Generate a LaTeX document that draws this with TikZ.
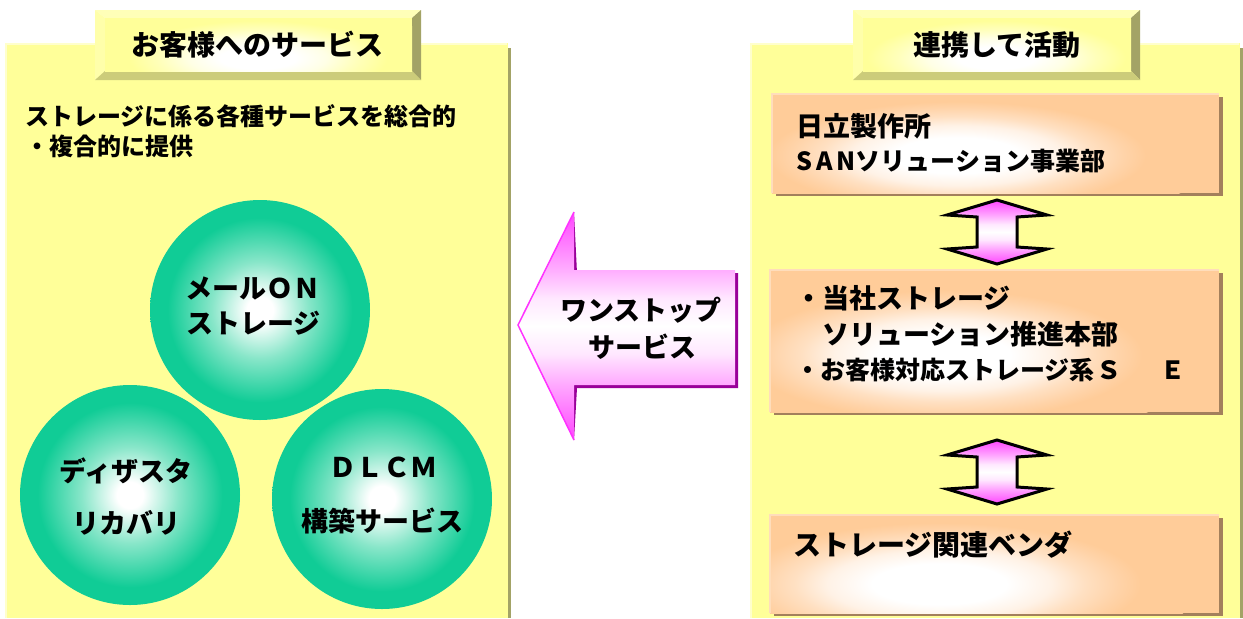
\documentclass[tikz,border=0pt]{standalone}
\usepackage{fontspec}
\setmainfont{Noto Sans CJK JP}
\usetikzlibrary{calc,fit,shadows}
\definecolor{panel}{HTML}{FFFF99}
\definecolor{panellight}{HTML}{FFFFCC}
\definecolor{panelshadow}{HTML}{A3A366}
\definecolor{bevtop}{HTML}{FFFFB8}
\definecolor{bevleft}{HTML}{FFFFAA}
\definecolor{bevright}{HTML}{A3A366}
\definecolor{bevbottom}{HTML}{CCCC7A}
\definecolor{bevface}{HTML}{FFFF99}
\definecolor{bevface1}{HTML}{FFFFE6}
\definecolor{bevface2}{HTML}{FFFFBB}
\definecolor{peach}{HTML}{FFCC99}
\definecolor{peach1}{HTML}{FFF2E6}
\definecolor{peach2}{HTML}{FFE0C2}
\definecolor{peach3}{HTML}{FFD3A8}
\definecolor{peachlight}{HTML}{FFDDBB}
\definecolor{peachshadow}{HTML}{A3805C}
\definecolor{cgreen}{HTML}{10CC96}
\definecolor{cgreenmid}{HTML}{88E6C9}
\definecolor{mag}{HTML}{FF44FF}
\definecolor{pink1}{HTML}{FFB0FF}
\definecolor{pink2}{HTML}{FFE8FF}
\definecolor{magbright}{HTML}{FF33FF}
\definecolor{magdark}{HTML}{990099}
\pgfdeclareradialshading{ball}{\pgfpointorigin}{color(0bp)=(white); color(3bp)=(white); color(11bp)=(cgreenmid); color(21bp)=(cgreen); color(25bp)=(cgreen); color(50bp)=(cgreen)}
\pgfdeclareradialshading{glow}{\pgfpointorigin}{color(0bp)=(white); color(6bp)=(white); color(10bp)=(peach1); color(13bp)=(peach2); color(16bp)=(peach3); color(18bp)=(peach); color(50bp)=(peach)}
\pgfdeclareradialshading{yglow}{\pgfpointorigin}{color(0bp)=(white); color(5bp)=(white); color(9bp)=(bevface1); color(13bp)=(bevface2); color(17bp)=(bevface); color(50bp)=(bevface)}
\pgfdeclareverticalshading{pinkv}{100bp}{color(0bp)=(mag); color(25bp)=(mag); color(38bp)=(pink1); color(44bp)=(pink2); color(50bp)=(white); color(56bp)=(pink2); color(62bp)=(pink1); color(75bp)=(mag); color(100bp)=(mag)}
\newcommand\bevbox[4]{%
  \pgfmathsetmacro\bvXa{#1+10}\pgfmathsetmacro\bvYa{#2+8}%
  \pgfmathsetmacro\bvXb{#3-9}\pgfmathsetmacro\bvYb{#4-9}%
  \pgfmathsetmacro\bvCx{(#1+#3)/2}\pgfmathsetmacro\bvCy{#4-22}%
  \fill[bevtop] (#1,#2) -- (#3,#2) -- (\bvXb,\bvYa) -- (\bvXa,\bvYa) -- cycle;
  \fill[bevleft] (#1,#2) -- (\bvXa,\bvYa) -- (\bvXa,\bvYb) -- (#1,#4) -- cycle;
  \fill[bevright] (#3,#2) -- (#3,#4) -- (\bvXb,\bvYb) -- (\bvXb,\bvYa) -- cycle;
  \fill[bevbottom] (#1,#4) -- (#3,#4) -- (\bvXb,\bvYb) -- (\bvXa,\bvYb) -- cycle;
  \fill[bevface] (\bvXa,\bvYa) rectangle (\bvXb,\bvYb);
  \begin{scope}
    \clip (\bvXa,\bvYa) rectangle (\bvXb,\bvYb);
    \shade[shading=yglow] (\bvCx,\bvCy) ellipse (190 and 55);
  \end{scope}}
\begin{document}
\begin{tikzpicture}[x=0.5pt,y=-0.5pt,
  txt/.style={inner sep=0pt, font=\bfseries\fontsize{13.5pt}{16pt}\selectfont},
  txtbig/.style={inner sep=0pt, font=\bfseries\fontsize{14pt}{16pt}\selectfont},
  txtsmall/.style={inner sep=0pt, font=\bfseries\fontsize{12pt}{14pt}\selectfont},
  txtmid/.style={inner sep=0pt, font=\bfseries\fontsize{12.5pt}{14pt}\selectfont},
  ballnode/.style={circle, minimum size=110pt, inner sep=0pt, shading=ball},
  peachbox/.style 2 args={fill=peach, inner sep=0pt,
    general shadow={fill=peachshadow, shadow xshift=1.75pt, shadow yshift=-1.5pt},
    path picture={\shade[shading=glow] ($(path picture bounding box.center)+(#1)$) ellipse (#2);}},
  dblarrow/.pic={
    \shadedraw[shading=pinkv, draw=black, line width=1.5pt, line join=miter]
      (0,-32) -- (50,-17) -- (20,-15) -- (20,15) -- (50,17) -- (0,32)
      -- (-50,17) -- (-20,15) -- (-20,-15) -- (-50,-17) -- cycle;}
]
\useasboundingbox (0,0) rectangle (1243,618);
\fill[white] (0,0) rectangle (1243,618);

% ---------- left panel ----------
\fill[panelshadow] (507,48) rectangle (511,618);
\fill[panel] (5,43) rectangle (508,618);
\draw[panellight, line width=0.75pt] (5.75,618) -- (5.75,43.75) -- (507,43.75);
\bevbox{95}{10}{421}{80}
\node[txtbig] (ltitle) at (257,45) {お客様へのサービス};

\node[txtsmall, anchor=west] (desc1) at (25,116) {ストレージに係る各種サービスを総合的};
\node[txtsmall, anchor=west] (desc2) at (25,146) {・複合的に提供};

\node[ballnode] (mail) at (260,310) {};
\node[ballnode] (dr) at (130,495) {};
\node[ballnode] (dlcm) at (382,499) {};

\node[txt, anchor=west] (mail1) at (185,288) {メールＯＮ};
\node[txt, anchor=west] (mail2) at (186,323) {ストレージ};
\node[txt] (dr1) at (126,471) {ディザスタ};
\node[txt] (dr2) at (126,523) {リカバリ};
\node[txt] (dlcm1) at (383,467) {ＤＬＣＭ};
\node[txt] (dlcm2) at (382,521) {構築サービス};

% ---------- big arrow ----------
\coordinate (atip) at (518,325);
\coordinate (ahtop) at (574,212);
\coordinate (ahbot) at (574,440);
\fill[magdark, shift={(3,3)}] (atip) -- (ahtop) -- (574,270) -- (735,270) -- (735,385) -- (574,385) -- (ahbot) -- cycle;
\shade[shading=pinkv] (atip) -- (ahtop) -- (574,270) -- (735,270) -- (735,385) -- (574,385) -- (ahbot) -- cycle;
\draw[magbright, line width=0.75pt] (ahbot) -- (atip) -- (ahtop);
\node[txt] (onestop1) at (641,310) {ワンストップ};
\node[txt] (onestop2) at (642,347) {サービス};

% ---------- right panel ----------
\fill[panelshadow] (1239,48) rectangle (1243,618);
\fill[panel] (750,43) rectangle (1240,618);
\draw[panellight, line width=0.75pt] (750.75,618) -- (750.75,43.75) -- (1239,43.75);
\bevbox{853}{10}{1140}{80}
\node[txtbig] (rtitle) at (997,45) {連携して活動};

\coordinate (b1nw) at (772,94);  \coordinate (b1se) at (1219,193);
\coordinate (b2nw) at (770,270); \coordinate (b2se) at (1219,412);
\coordinate (b3nw) at (770,515); \coordinate (b3se) at (1219,613);
\node[peachbox={-40,12}{260 and 75}, fit=(b1nw)(b1se)] (box1) {};
\node[peachbox={-55,14}{270 and 90}, fit=(b2nw)(b2se)] (box2) {};
\node[peachbox={-65,20}{270 and 85}, fit=(b3nw)(b3se)] (box3) {};
\foreach \b in {box1,box2,box3}{
  \draw[peachlight, line width=1pt] (\b.south west) -- (\b.north west) -- (\b.north east);}

\pic at (997,232) {dblarrow};
\pic at (997,472) {dblarrow};

\node[txt, anchor=west] (hitachi1) at (796,126) {日立製作所};
\node[txtmid, anchor=west] (hitachi2) at (796,161) {S\hspace{2pt}A\hspace{2pt}Nソリューション事業部};
\node[txt, anchor=west] (own1) at (795,298) {・当社ストレージ};
\node[txt, anchor=west] (own2) at (822,334) {ソリューション推進本部};
\node[txtmid, anchor=west] (own3) at (795,370) {・お客様対応ストレージ系};
\node[txtmid] (own3s) at (1109,370) {Ｓ};
\node[txtmid] (own3e) at (1173,370) {Ｅ};
\node[txtbig, anchor=west] (vendor) at (793,545) {ストレージ関連ベンダ};
\end{tikzpicture}
\end{document}
